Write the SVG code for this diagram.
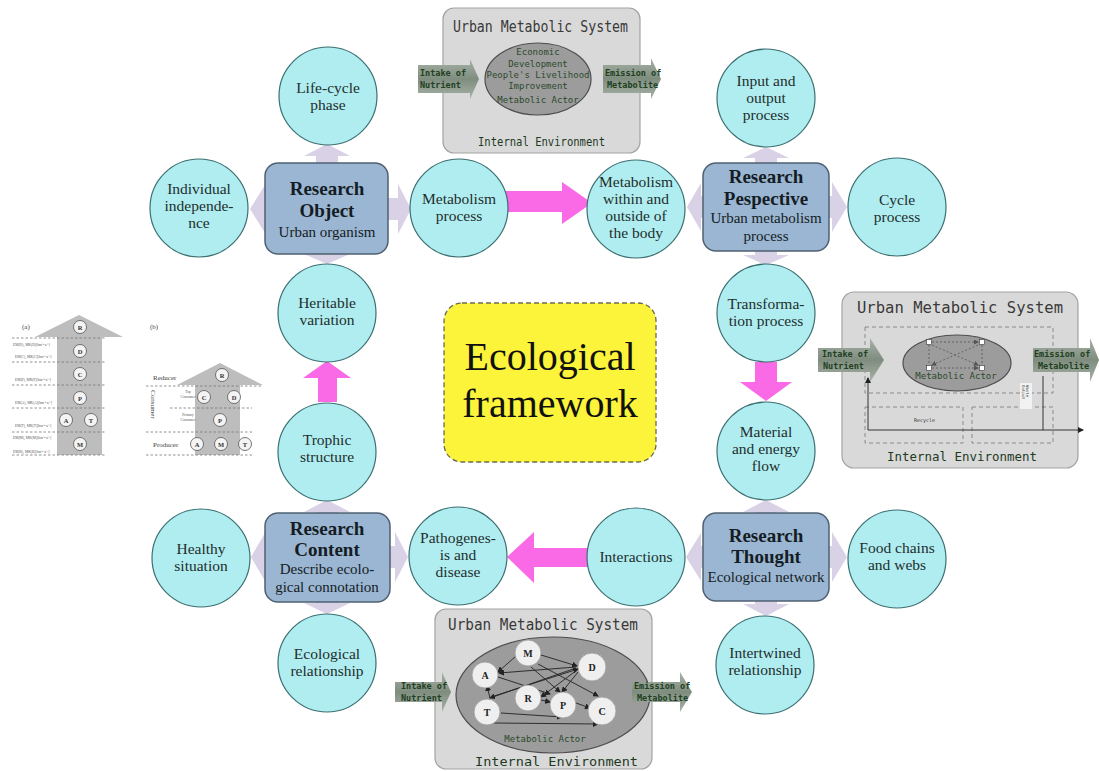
<svg xmlns="http://www.w3.org/2000/svg" width="1099" height="771" viewBox="0 0 1099 771">
  <defs>
    <style>
      .circ { fill: #b0edf0; stroke: #3b6f72; stroke-width: 1.2; }
      .box { fill: #9bb6d2; stroke: #4f6072; stroke-width: 1.5; }
      .lav { fill: #d9d1e6; }
      .pink { fill: #fa6ae6; }
      .t { font-family: "Liberation Serif", "Times New Roman", serif; font-size: 15.5px; fill: #1f2d2d; text-anchor: middle; }
      .tb { font-family: "Liberation Serif", "Times New Roman", serif; font-size: 19px; font-weight: bold; fill: #141c24; text-anchor: middle; }
      .ts { font-family: "Liberation Serif", "Times New Roman", serif; font-size: 15px; fill: #141c24; text-anchor: middle; }
      .panel { fill: #d9d9d9; stroke: #a3a3a3; stroke-width: 1.2; }
      .mono { font-family: "DejaVu Sans Mono", "Liberation Mono", monospace; }
      .ttl { font-size: 15px; fill: #3a3a3a; }
      .env { font-size: 12px; fill: #1f3a1f; }
      .grn { font-size: 8.5px; fill: #20401f; font-weight: bold; }
      .act { font-size: 9px; fill: #2c4a2c; }
      .ell { fill: #9c9c9c; stroke: #4d4d4d; stroke-width: 1.2; }
      .dash { fill: none; stroke: #8a8a8a; stroke-width: 1; stroke-dasharray: 4 3; }
      .web { stroke: #222; stroke-width: 0.9; fill: none; marker-end: url(#ah); }
      .sc { fill: #efefef; stroke: #9a9a9a; stroke-width: 0.8; }
      .scl { font-family: "Liberation Serif", serif; font-size: 10px; font-weight: bold; fill: #222; text-anchor: middle; }
      .tiny { font-family: "Liberation Serif", serif; font-size: 3.6px; fill: #555; }
      .small { font-family: "Liberation Serif", serif; font-size: 7px; fill: #444; }
      .pyr { fill: #bdbdbd; }
      .pdash { stroke: #777; stroke-width: 0.8; stroke-dasharray: 2.5 2; fill: none; }
      .pc { fill: #f4f4f4; stroke: #555; stroke-width: 0.8; }
      .pcl { font-family: "Liberation Serif", serif; font-size: 6.5px; font-weight: bold; fill: #333; text-anchor: middle; }
    </style>
    <linearGradient id="flow" x1="0" y1="0" x2="0" y2="1">
      <stop offset="0" stop-color="#a7b2a7"/>
      <stop offset="0.5" stop-color="#7f8d7f"/>
      <stop offset="1" stop-color="#a7b2a7"/>
    </linearGradient>
    <marker id="ah" markerWidth="6" markerHeight="6" refX="5" refY="3" orient="auto" markerUnits="userSpaceOnUse">
      <path d="M0,0 L6,3 L0,6 z" fill="#222"/>
    </marker>
    <marker id="ahd" markerWidth="5" markerHeight="5" refX="4" refY="2.5" orient="auto" markerUnits="userSpaceOnUse">
      <path d="M0,0 L5,2.5 L0,5 z" fill="#555"/>
    </marker>
  </defs>

  <rect width="1099" height="771" fill="#ffffff"/>

  <!-- lavender spoke arrows around the four research boxes -->
  <g id="connectors">
    <!-- Research Object -->
    <polygon class="lav" points="327,198 265,198 265,185 250,209 265,233 265,220 327,220"/>
    <polygon class="lav" points="316,209 316,156 304,156 327,144 350,156 338,156 338,209"/>
    <polygon class="lav" points="327,198 398,198 398,184 411,209 398,234 398,220 327,220"/>
    <polygon class="lav" points="316,209 316,254 304,254 327,264 350,254 338,254 338,209"/>
    <!-- Research Pespective -->
    <polygon class="lav" points="766,196 701,196 701,183 687,207 701,231 701,218 766,218"/>
    <polygon class="lav" points="755,207 755,158 743,158 766,147 789,158 777,158 777,207"/>
    <polygon class="lav" points="766,196 832,196 832,182 847,207 832,232 832,218 766,218"/>
    <polygon class="lav" points="755,207 755,255 743,255 766,265 789,255 777,255 777,207"/>
    <!-- Research Content -->
    <polygon class="lav" points="327,546 265,546 265,533 251,557 265,581 265,568 327,568"/>
    <polygon class="lav" points="316,557 316,512 304,512 327,500 350,512 338,512 338,557"/>
    <polygon class="lav" points="327,546 395,546 395,532 408,557 395,582 395,568 327,568"/>
    <polygon class="lav" points="316,557 316,603 304,603 327,614 350,603 338,603 338,557"/>
    <!-- Research Thought -->
    <polygon class="lav" points="766,546 701,546 701,533 686,557 701,581 701,568 766,568"/>
    <polygon class="lav" points="755,557 755,512 743,512 766,500 789,512 777,512 777,557"/>
    <polygon class="lav" points="766,546 832,546 832,532 847,557 832,582 832,568 766,568"/>
    <polygon class="lav" points="755,557 755,604 743,604 766,616 789,604 777,604 777,557"/>

    <!-- magenta process arrows -->
    <polygon class="pink" points="504,191 562,191 562,182 592,203 562,224 562,212 504,212"/>
    <polygon class="pink" points="755,362 777,362 777,382 792,382 766,401 740,382 755,382"/>
    <polygon class="pink" points="589,548 534,548 534,532 507,557 534,583 534,567 589,567"/>
    <polygon class="pink" points="318,402 318,378 303,378 327,361 351,378 337,378 337,402"/>
  </g>

  <!-- research boxes -->
  <g id="research-object">
    <rect class="box" x="265" y="163" width="123" height="91" rx="13"/>
    <text class="tb" x="327" y="195">Research</text>
    <text class="tb" x="327" y="217">Object</text>
    <text class="ts" x="327" y="237">Urban organism</text>
  </g>
  <g id="research-perspective">
    <rect class="box" x="703" y="163" width="126" height="88" rx="13"/>
    <text class="tb" x="766" y="183">Research</text>
    <text class="tb" x="766" y="205">Pespective</text>
    <text class="ts" x="766" y="223">Urban metabolism</text>
    <text class="ts" x="766" y="241">process</text>
  </g>
  <g id="research-content">
    <rect class="box" x="265" y="513" width="125" height="89" rx="13"/>
    <text class="tb" x="327" y="535">Research</text>
    <text class="tb" x="327" y="556">Content</text>
    <text class="ts" x="327" y="574">Describe ecolo-</text>
    <text class="ts" x="327" y="592">gical connotation</text>
  </g>
  <g id="research-thought">
    <rect class="box" x="703" y="513" width="126" height="88" rx="13"/>
    <text class="tb" x="766" y="542">Research</text>
    <text class="tb" x="766" y="563">Thought</text>
    <text class="ts" x="766" y="582">Ecological network</text>
  </g>

  <!-- concept circles -->
  <g id="life-cycle"><circle class="circ" cx="328" cy="96" r="49"/>
    <text class="t" x="328" y="93">Life-cycle</text><text class="t" x="328" y="110">phase</text></g>
  <g id="individual"><circle class="circ" cx="199" cy="208" r="49"/>
    <text class="t" x="199" y="194">Individual</text><text class="t" x="199" y="211">independe-</text><text class="t" x="199" y="228">nce</text></g>
  <g id="metabolism-process"><circle class="circ" cx="459" cy="208" r="49"/>
    <text class="t" x="459" y="204">Metabolism</text><text class="t" x="459" y="221">process</text></g>
  <g id="heritable"><circle class="circ" cx="327" cy="313" r="49"/>
    <text class="t" x="327" y="308">Heritable</text><text class="t" x="327" y="325">variation</text></g>
  <g id="trophic"><circle class="circ" cx="327" cy="452" r="49"/>
    <text class="t" x="327" y="445">Trophic</text><text class="t" x="327" y="462">structure</text></g>
  <g id="healthy"><circle class="circ" cx="201" cy="558" r="49"/>
    <text class="t" x="201" y="554">Healthy</text><text class="t" x="201" y="571">situation</text></g>
  <g id="pathogenesis"><circle class="circ" cx="458" cy="556" r="49"/>
    <text class="t" x="458" y="543">Pathogenes-</text><text class="t" x="458" y="560">is and</text><text class="t" x="458" y="577">disease</text></g>
  <g id="ecological-relationship"><circle class="circ" cx="327" cy="663" r="49"/>
    <text class="t" x="327" y="659">Ecological</text><text class="t" x="327" y="676">relationship</text></g>
  <g id="within-outside"><circle class="circ" cx="636" cy="209" r="49"/>
    <text class="t" x="636" y="187">Metabolism</text><text class="t" x="636" y="204">within  and</text><text class="t" x="636" y="221">outside of</text><text class="t" x="636" y="238">the body</text></g>
  <g id="input-output"><circle class="circ" cx="766" cy="98" r="49"/>
    <text class="t" x="766" y="86">Input and</text><text class="t" x="766" y="103">output</text><text class="t" x="766" y="120">process</text></g>
  <g id="cycle"><circle class="circ" cx="897" cy="207" r="49"/>
    <text class="t" x="897" y="205">Cycle</text><text class="t" x="897" y="222">process</text></g>
  <g id="transformation"><circle class="circ" cx="766" cy="313" r="49"/>
    <text class="t" x="766" y="309">Transforma-</text><text class="t" x="766" y="326">tion process</text></g>
  <g id="material-energy"><circle class="circ" cx="766" cy="451" r="49"/>
    <text class="t" x="766" y="437">Material</text><text class="t" x="766" y="454">and energy</text><text class="t" x="766" y="471">flow</text></g>
  <g id="interactions"><circle class="circ" cx="636" cy="557" r="49"/>
    <text class="t" x="636" y="562">Interactions</text></g>
  <g id="food-chains"><circle class="circ" cx="897" cy="559" r="49"/>
    <text class="t" x="897" y="553">Food chains</text><text class="t" x="897" y="570">and webs</text></g>
  <g id="intertwined"><circle class="circ" cx="765" cy="665" r="49"/>
    <text class="t" x="765" y="658">Intertwined</text><text class="t" x="765" y="675">relationship</text></g>

  <!-- central title -->
  <g id="ecological-framework">
    <rect x="444" y="303" width="212" height="159" rx="18" fill="#fbf43a" stroke="#6b6b55" stroke-width="1.3" stroke-dasharray="5 3"/>
    <text x="550" y="370" font-family="Liberation Serif, serif" font-size="40" fill="#111" text-anchor="middle">Ecological</text>
    <text x="550" y="417" font-family="Liberation Serif, serif" font-size="40" fill="#111" text-anchor="middle">framework</text>
  </g>

  <!-- inset: metabolic system overview (top) -->
  <g id="ums-top">
    <rect class="panel" x="443" y="8" width="197" height="145" rx="11"/>
    <text class="mono ttl" x="453" y="32" textLength="175" lengthAdjust="spacingAndGlyphs">Urban Metabolic System</text>
    <ellipse class="ell" cx="538" cy="79" rx="53" ry="36"/>
    <g class="mono" text-anchor="middle">
      <text x="538" y="55" class="act">Economic</text>
      <text x="538" y="67" class="act">Development</text>
      <text x="538" y="78" class="act">People's Livelihood</text>
      <text x="538" y="89" class="act">Improvement</text>
      <text x="538" y="103" class="act">Metabolic Actor</text>
    </g>
    <polygon fill="url(#flow)" points="418,65 470,65 470,59 479,79 470,99 470,93 418,93"/>
    <text class="mono grn" x="420" y="76">Intake of</text>
    <text class="mono grn" x="420" y="88">Nutrient</text>
    <polygon fill="url(#flow)" points="603,65 651,65 651,58 661,79 651,99 651,93 603,93"/>
    <text class="mono grn" x="605" y="76">Emission of</text>
    <text class="mono grn" x="607" y="88">Metabolite</text>
    <text class="mono env" x="478" y="146" textLength="127" lengthAdjust="spacingAndGlyphs">Internal Environment</text>
  </g>

  <!-- inset: metabolic system with recycling (right) -->
  <g id="ums-right">
    <rect class="panel" x="842" y="292" width="236" height="176" rx="12"/>
    <text class="mono ttl" x="857" y="313" textLength="206" lengthAdjust="spacingAndGlyphs">Urban Metabolic System</text>
    <rect class="dash" x="865" y="327" width="188" height="66"/>
    <rect class="dash" x="865" y="407" width="98" height="36"/>
    <rect class="dash" x="972" y="407" width="81" height="36"/>
    <ellipse class="ell" cx="957" cy="363" rx="54" ry="28"/>
    <g stroke="#555" stroke-width="0.8" stroke-dasharray="2 2" fill="none">
      <line x1="932" y1="342" x2="978" y2="342" marker-end="url(#ahd)"/>
      <line x1="932" y1="368" x2="978" y2="368" marker-end="url(#ahd)"/>
      <line x1="929" y1="345" x2="929" y2="364"/>
      <line x1="982" y1="345" x2="982" y2="364"/>
      <line x1="932" y1="345" x2="978" y2="365" marker-end="url(#ahd)"/>
      <line x1="978" y1="345" x2="932" y2="365" marker-end="url(#ahd)"/>
    </g>
    <g fill="#ffffff" stroke="#333" stroke-width="0.6">
      <rect x="926.5" y="339.5" width="5" height="5"/>
      <rect x="979.5" y="339.5" width="5" height="5"/>
      <rect x="926.5" y="365.5" width="5" height="5"/>
      <rect x="979.5" y="365.5" width="5" height="5"/>
    </g>
    <text class="mono act" x="956" y="379" text-anchor="middle" font-size="10">Metabolic Actor</text>
    <polygon fill="url(#flow)" points="818,348 870,348 870,338 884,360 870,382 870,372 818,372"/>
    <text class="mono grn" x="822" y="357">Intake of</text>
    <text class="mono grn" x="823" y="369">Nutrient</text>
    <polygon fill="url(#flow)" points="1033,348 1090,348 1090,338 1099,360 1090,382 1090,372 1033,372"/>
    <text class="mono grn" x="1034" y="357">Emission of</text>
    <text class="mono grn" x="1038" y="369">Metabolite</text>
    <rect x="1020" y="383" width="12" height="26" fill="#f2f2f2"/>
    <text class="mono" font-size="4" fill="#444" transform="translate(1026,385) rotate(90)">Waste</text>
    <text class="mono" font-size="4" fill="#444" transform="translate(1022,385) rotate(90)">Output</text>
    <text class="mono" font-size="5" fill="#333" x="914" y="422">Recycle</text>
    <g stroke="#222" stroke-width="0.9" fill="none">
      <line x1="868" y1="430" x2="1083" y2="430" marker-end="url(#ah)"/>
      <line x1="868" y1="430" x2="868" y2="378" marker-end="url(#ah)"/>
      <line x1="1043" y1="376" x2="1043" y2="430"/>
    </g>
    <text class="mono env" x="887" y="461" textLength="150" lengthAdjust="spacingAndGlyphs">Internal Environment</text>
  </g>

  <!-- inset: metabolic actor network (bottom) -->
  <g id="ums-bottom">
    <rect class="panel" x="435" y="609" width="217" height="160" rx="11"/>
    <text class="mono ttl" x="448" y="630" textLength="190" lengthAdjust="spacingAndGlyphs">Urban Metabolic System</text>
    <ellipse class="ell" cx="553" cy="695" rx="97" ry="58"/>
    <g class="web">
      <line x1="516" y1="656" x2="498" y2="672"/>
      <line x1="541" y1="655" x2="577" y2="666"/>
      <line x1="531" y1="667" x2="560" y2="692"/>
      <line x1="538" y1="664" x2="598" y2="696"/>
      <line x1="576" y1="667" x2="499" y2="673"/>
      <line x1="576" y1="668" x2="490" y2="698"/>
      <line x1="577" y1="670" x2="541" y2="697"/>
      <line x1="578" y1="672" x2="562" y2="692"/>
      <line x1="498" y1="677" x2="550" y2="694"/>
      <line x1="490" y1="698" x2="487" y2="686"/>
      <line x1="491" y1="697" x2="578" y2="669"/>
      <line x1="541" y1="700" x2="550" y2="702"/>
      <line x1="576" y1="703" x2="590" y2="708"/>
      <line x1="501" y1="713" x2="562" y2="717"/>
      <line x1="493" y1="723" x2="598" y2="724"/>
    </g>
    <g>
      <circle class="sc" cx="528" cy="653" r="13"/><text class="scl" x="528" y="657">M</text>
      <circle class="sc" cx="592" cy="667" r="14"/><text class="scl" x="592" y="671">D</text>
      <circle class="sc" cx="485" cy="675" r="13"/><text class="scl" x="485" y="679">A</text>
      <circle class="sc" cx="528" cy="698" r="13"/><text class="scl" x="528" y="702">R</text>
      <circle class="sc" cx="563" cy="705" r="13"/><text class="scl" x="563" y="709">P</text>
      <circle class="sc" cx="487" cy="712" r="13"/><text class="scl" x="487" y="716">T</text>
      <circle class="sc" cx="602" cy="711" r="14"/><text class="scl" x="602" y="715">C</text>
    </g>
    <text class="mono act" x="545" y="742" text-anchor="middle">Metabolic Actor</text>
    <polygon fill="url(#flow)" points="395,682 442,682 442,672 451,692 442,712 442,702 395,702"/>
    <text class="mono grn" x="401" y="689">Intake of</text>
    <text class="mono grn" x="401" y="701">Nutrient</text>
    <polygon fill="url(#flow)" points="632,682 680,682 680,672 692,692 680,712 680,702 632,702"/>
    <text class="mono grn" x="634" y="689">Emission of</text>
    <text class="mono grn" x="637" y="701">Metabolite</text>
    <text class="mono env" x="475" y="766" textLength="163" lengthAdjust="spacingAndGlyphs">Internal Environment</text>
  </g>

  <!-- trophic pyramid (a): emergy levels -->
  <g id="pyramid-a">
    <text class="small" x="22" y="329">(a)</text>
    <polygon class="pyr" points="57,455 57,337 35,337 79,315 123,337 102,337 102,455"/>
    <g class="pdash">
      <line x1="12" y1="338" x2="106" y2="338"/><line x1="12" y1="362" x2="106" y2="362"/>
      <line x1="12" y1="385" x2="106" y2="385"/><line x1="12" y1="408" x2="106" y2="408"/>
      <line x1="12" y1="432" x2="106" y2="432"/><line x1="12" y1="455" x2="106" y2="455"/>
    </g>
    <circle class="pc" cx="80" cy="327" r="6.5"/><text class="pcl" x="80" y="329.5">R</text>
    <circle class="pc" cx="80" cy="351" r="6.5"/><text class="pcl" x="80" y="353.5">D</text>
    <circle class="pc" cx="80" cy="374" r="6.5"/><text class="pcl" x="80" y="376.5">C</text>
    <circle class="pc" cx="80" cy="398" r="6.5"/><text class="pcl" x="80" y="400.5">P</text>
    <circle class="pc" cx="66" cy="420" r="6.5"/><text class="pcl" x="66" y="422.5">A</text>
    <circle class="pc" cx="91" cy="420" r="6.5"/><text class="pcl" x="91" y="422.5">T</text>
    <circle class="pc" cx="80" cy="444" r="6.5"/><text class="pcl" x="80" y="446.5">M</text>
    <text class="tiny" x="13" y="346">EM(D), MK(D)[hm⁻²·a⁻¹]</text>
    <text class="tiny" x="15" y="358">EM(C), MK(C)[hm⁻²·a⁻¹]</text>
    <text class="tiny" x="15" y="381">EM(P), MK(P)[hm⁻²·a⁻¹]</text>
    <text class="tiny" x="15" y="404">EM(A), MK(A)[hm⁻²·a⁻¹]</text>
    <text class="tiny" x="15" y="427">EM(T), MK(T)[hm⁻²·a⁻¹]</text>
    <text class="tiny" x="13" y="439">EM(M), MK(M)[hm⁻²·a⁻¹]</text>
    <text class="tiny" x="13" y="453">EM(R), MK(R)[hm⁻²·a⁻¹]</text>
  </g>

  <!-- trophic pyramid (b): functional groups -->
  <g id="pyramid-b">
    <text class="small" x="150" y="329">(b)</text>
    <polygon class="pyr" points="195,455 195,385 177,385 220,363 263,385 240,385 240,455"/>
    <g class="pdash">
      <line x1="146" y1="386" x2="262" y2="386"/><line x1="170" y1="408" x2="252" y2="408"/>
      <line x1="146" y1="432" x2="252" y2="432"/><line x1="146" y1="455" x2="252" y2="455"/>
    </g>
    <circle class="pc" cx="222" cy="375" r="6.5"/><text class="pcl" x="222" y="377.5">R</text>
    <circle class="pc" cx="204" cy="397" r="6.5"/><text class="pcl" x="204" y="399.5">C</text>
    <circle class="pc" cx="234" cy="397" r="6.5"/><text class="pcl" x="234" y="399.5">D</text>
    <circle class="pc" cx="220" cy="420" r="6.5"/><text class="pcl" x="220" y="422.5">P</text>
    <circle class="pc" cx="197" cy="444" r="6.5"/><text class="pcl" x="197" y="446.5">A</text>
    <circle class="pc" cx="221" cy="444" r="6.5"/><text class="pcl" x="221" y="446.5">M</text>
    <circle class="pc" cx="245" cy="444" r="6.5"/><text class="pcl" x="245" y="446.5">T</text>
    <text class="small" x="153" y="380">Reducer</text>
    <text class="small" x="153" y="447">Producer</text>
    <text class="tiny" x="188" y="393" text-anchor="middle">Top</text>
    <text class="tiny" x="188" y="398" text-anchor="middle">Consumer</text>
    <text class="tiny" x="188" y="416" text-anchor="middle">Primary</text>
    <text class="tiny" x="188" y="421" text-anchor="middle">Consumer</text>
    <text class="small" transform="translate(151,390) rotate(90)">Consumer</text>
  </g>
</svg>
